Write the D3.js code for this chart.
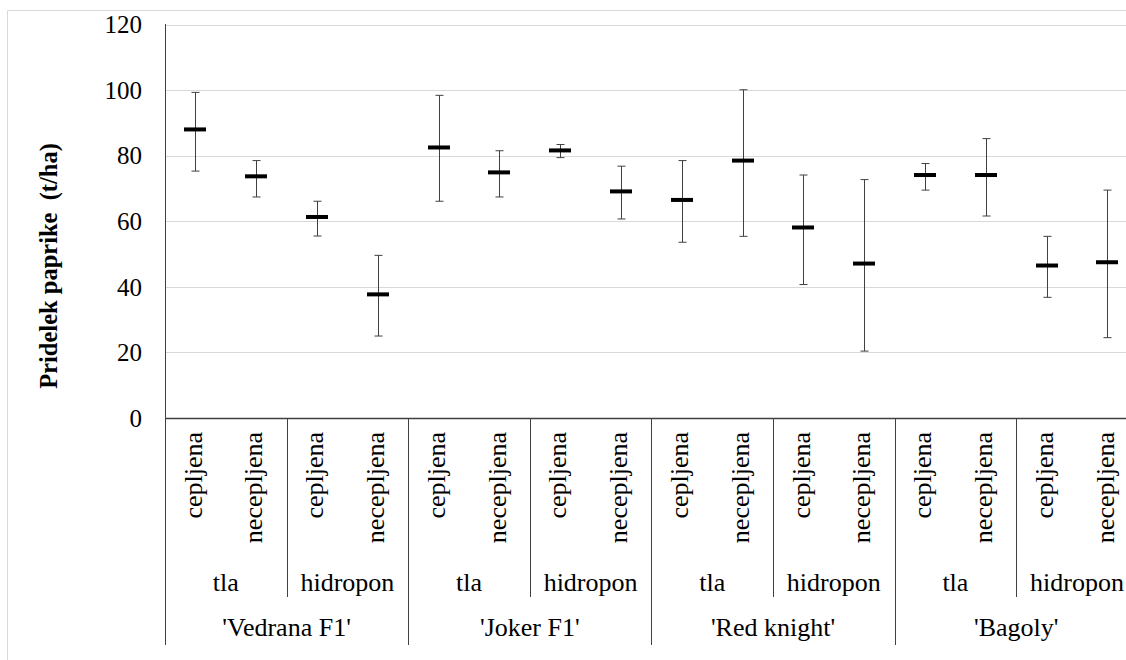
<!DOCTYPE html>
<html>
<head>
<meta charset="utf-8">
<script src="https://cdn.jsdelivr.net/npm/d3@7"></script>
<style>
  @font-face { font-family: 'ChartSerif'; src: local('Liberation Serif'), local('LiberationSerif'), local('Times New Roman'), local('DejaVu Serif'); }
  body { margin: 0; }
  #chart text { font-family: 'Times New Roman', 'Liberation Serif', 'ChartSerif' !important; }
</style>
</head>
<body>
<svg id="chart" width="1126" height="660"></svg>
<script>
const varieties = ["'Vedrana F1'", "'Joker F1'", "'Red knight'", "'Bagoly'"]
const systems = ['tla', 'hidropon']
const grafting = ['cepljena', 'necepljena']

// mean and the ends of the error bars, one per category (variety > system > grafting)
const means = [88, 73.7, 61.3, 37.7, 82.5, 74.9, 81.6, 69.1, 66.5, 78.5, 58.1, 47.1, 74.1, 74.1, 46.5, 47.5]
const upper = [99.3, 78.5, 66.1, 49.6, 98.4, 81.5, 83.4, 76.8, 78.5, 100.1, 74.1, 72.7, 77.6, 85.2, 55.4, 69.5]
const lower = [75.3, 67.4, 55.5, 25.0, 66.1, 67.4, 79.4, 60.7, 53.6, 55.4, 40.7, 20.4, 69.5, 61.6, 36.8, 24.5]
const yTicks = [0, 20, 40, 60, 80, 100, 120]

const svg = d3.select('#chart')
const left = 165
const catW = 60.8
const bottom = 418

const cats = d3.range(means.length)
const x = d3.scaleBand().domain(cats).range([left, left + cats.length * catW])
const y = d3.scaleLinear().domain([0, 120]).range([bottom, 24.5])

// light outer frame of the chart area
svg.append('path')
  .attr('d', 'M7.5,660 V10.5 H1126')
  .attr('fill', 'none')
  .attr('stroke', '#d9d9d9')

// gridlines
svg.append('g').selectAll('line')
  .data(yTicks.filter(d => d > 0))
  .join('line')
  .attr('x1', left).attr('x2', 1126)
  .attr('y1', d => Math.round(y(d)) + 0.5).attr('y2', d => Math.round(y(d)) + 0.5)
  .attr('stroke', '#d9d9d9')

// y tick labels
svg.append('g').selectAll('text')
  .data(yTicks)
  .join('text')
  .attr('x', left - 23)
  .attr('y', d => y(d))
  .attr('dy', '0.35em')
  .attr('text-anchor', 'end')
  .attr('font-size', 25)
  .text(d => d)

svg.append('line')
  .attr('x1', left + 0.5).attr('x2', left + 0.5)
  .attr('y1', 24).attr('y2', bottom)
  .attr('stroke', '#404040')

svg.append('text')
  .attr('transform', 'translate(57,266) rotate(-90)')
  .attr('text-anchor', 'middle')
  .attr('font-size', 24.5)
  .attr('font-weight', 'bold')
  .text('Pridelek paprike\u00a0\u00a0(t/ha)')

// category axis: baseline and separators
svg.append('line')
  .attr('x1', left).attr('x2', 1126)
  .attr('y1', bottom + 0.5).attr('y2', bottom + 0.5)
  .attr('stroke', '#404040')
  .attr('stroke-width', 1.5)

const sysEdges = d3.range(1, varieties.length * systems.length).filter(i => i % systems.length !== 0)
svg.append('g').selectAll('line')
  .data(sysEdges)
  .join('line')
  .attr('x1', i => Math.round(x(i * grafting.length)) + 0.5)
  .attr('x2', i => Math.round(x(i * grafting.length)) + 0.5)
  .attr('y1', bottom).attr('y2', 597)
  .attr('stroke', '#404040')

svg.append('g').selectAll('line')
  .data(d3.range(varieties.length + 1))
  .join('line')
  .attr('x1', i => Math.round(left + i * 4 * catW) + 0.5)
  .attr('x2', i => Math.round(left + i * 4 * catW) + 0.5)
  .attr('y1', bottom).attr('y2', 645)
  .attr('stroke', '#404040')

// level 1 labels (rotated)
svg.append('g').selectAll('text')
  .data(cats)
  .join('text')
  .attr('transform', i => `translate(${x(i) + x.bandwidth() / 2 - 3},432) rotate(-90)`)
  .attr('text-anchor', 'end')
  .attr('dy', '0.35em')
  .attr('font-size', 26)
  .text(i => grafting[i % grafting.length])

// level 2 labels
svg.append('g').selectAll('text')
  .data(d3.range(varieties.length * systems.length))
  .join('text')
  .attr('x', i => x(i * 2) + catW)
  .attr('y', 582)
  .attr('dy', '0.35em')
  .attr('text-anchor', 'middle')
  .attr('font-size', 26)
  .text(i => systems[i % systems.length])

// level 3 labels
svg.append('g').selectAll('text')
  .data(varieties)
  .join('text')
  .attr('x', (d, i) => x(i * 4) + 2 * catW)
  .attr('y', 627)
  .attr('dy', '0.35em')
  .attr('text-anchor', 'middle')
  .attr('font-size', 26)
  .text(d => d)

// error bars
const cx = i => Math.round(x(i) + x.bandwidth() / 2) + 0.5
const bars = svg.append('g').selectAll('g')
  .data(cats)
  .join('g')
  .attr('stroke', '#404040')

bars.append('line')
  .attr('x1', cx).attr('x2', cx)
  .attr('y1', i => y(upper[i])).attr('y2', i => y(lower[i]))
bars.append('line')
  .attr('x1', i => cx(i) - 4).attr('x2', i => cx(i) + 4)
  .attr('y1', i => y(upper[i])).attr('y2', i => y(upper[i]))
bars.append('line')
  .attr('x1', i => cx(i) - 4).attr('x2', i => cx(i) + 4)
  .attr('y1', i => y(lower[i])).attr('y2', i => y(lower[i]))

// mean markers
svg.append('g').selectAll('rect')
  .data(cats)
  .join('rect')
  .attr('x', i => cx(i) - 11.5)
  .attr('y', i => y(means[i]) - 2)
  .attr('width', 22)
  .attr('height', 4)
  .attr('fill', '#000')
</script>
</body>
</html>
